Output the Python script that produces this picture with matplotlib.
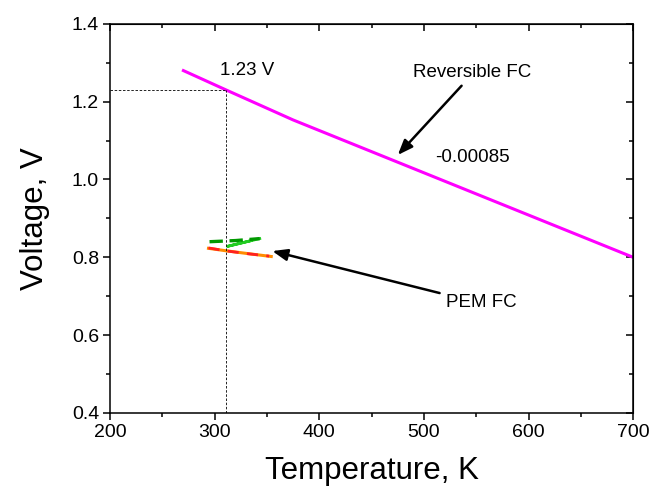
import matplotlib.pyplot as plt
from matplotlib.ticker import MultipleLocator

plt.rcParams['font.family'] = ['Liberation Sans', 'DejaVu Sans']

# reversible cell voltage vs temperature
rev_T = [270, 311, 375, 700]
rev_V = [1.28, 1.23, 1.153, 0.80]

# PEM fuel cell measurements
pem_green_T = [295, 320, 343]
pem_green_V = [0.840, 0.843, 0.848]
pem_green2_T = [343, 312, 335]
pem_green2_V = [0.848, 0.828, 0.843]
pem_orange_T = [294, 310, 330, 354]
pem_orange_V = [0.823, 0.817, 0.810, 0.802]
pem_red_T = [294, 312, 332, 352]
pem_red_V = [0.824, 0.816, 0.809, 0.803]

T_ref = 311
V_ref = 1.23

fig = plt.figure(figsize=(6.52, 4.88), dpi=100)
ax = fig.add_axes([0.169, 0.154, 0.802, 0.797])

ax.plot(rev_T, rev_V, color='#ff00ff', lw=2.2)
ax.plot(pem_orange_T, pem_orange_V, color='#ff8c00', lw=2.2)
ax.plot(pem_red_T, pem_red_V, color='#ff2020', lw=2.0, ls=(0, (4, 3)))
ax.plot(pem_green2_T, pem_green2_V, color='#22cc22', lw=2.0)
ax.plot(pem_green_T, pem_green_V, color='#009900', lw=2.4, ls=(0, (4, 2)))

# reference lines at 1.23 V
ax.plot([200, T_ref], [V_ref, V_ref], color='k', lw=0.6, ls=(0, (3, 2)))
ax.plot([T_ref, T_ref], [0.4, V_ref], color='k', lw=0.6, ls=(0, (3, 2)))

ax.text(331, 1.279, '1.23 V', fontsize=13.5, ha='center', va='center')
ax.text(546, 1.274, 'Reversible FC', fontsize=13.5, ha='center', va='center')
ax.text(546, 1.056, '-0.00085', fontsize=13.5, ha='center', va='center')
ax.text(555, 0.685, 'PEM FC', fontsize=13.5, ha='center', va='center')

arrow = dict(arrowstyle='-|>,head_length=0.9,head_width=0.35', color='k', lw=1.8,
             shrinkA=0, shrinkB=0)
ax.annotate('', xy=(475, 1.063), xytext=(536, 1.241), arrowprops=arrow)
ax.annotate('', xy=(355, 0.816), xytext=(515, 0.708), arrowprops=arrow)

ax.set_xlim(200, 700)
ax.set_ylim(0.4, 1.4)
ax.xaxis.set_major_locator(MultipleLocator(100))
ax.xaxis.set_minor_locator(MultipleLocator(50))
ax.yaxis.set_major_locator(MultipleLocator(0.2))
ax.yaxis.set_minor_locator(MultipleLocator(0.1))
ax.yaxis.set_major_formatter(lambda v, p: f'{v:.1f}')
ax.tick_params(which='major', direction='out', length=5, width=1.1, labelsize=14, pad=3)
ax.tick_params(which='minor', direction='out', length=3, width=1.1)
for s in ax.spines.values():
    s.set_linewidth(1.1)

# mirrored ticks pointing inward on top and right
top = ax.secondary_xaxis('top')
top.xaxis.set_major_locator(MultipleLocator(100))
top.xaxis.set_minor_locator(MultipleLocator(50))
top.tick_params(which='major', direction='in', length=5, width=1.1, labeltop=False)
top.tick_params(which='minor', direction='in', length=3, width=1.1)
right = ax.secondary_yaxis('right')
right.yaxis.set_major_locator(MultipleLocator(0.2))
right.yaxis.set_minor_locator(MultipleLocator(0.1))
right.tick_params(which='major', direction='in', length=5, width=1.1, labelright=False)
right.tick_params(which='minor', direction='in', length=3, width=1.1)

ax.set_xlabel('Temperature, K', fontsize=22.5, labelpad=11)
ax.set_ylabel('Voltage, V', fontsize=22.5, labelpad=16)

fig.savefig('out.png', dpi=100)
